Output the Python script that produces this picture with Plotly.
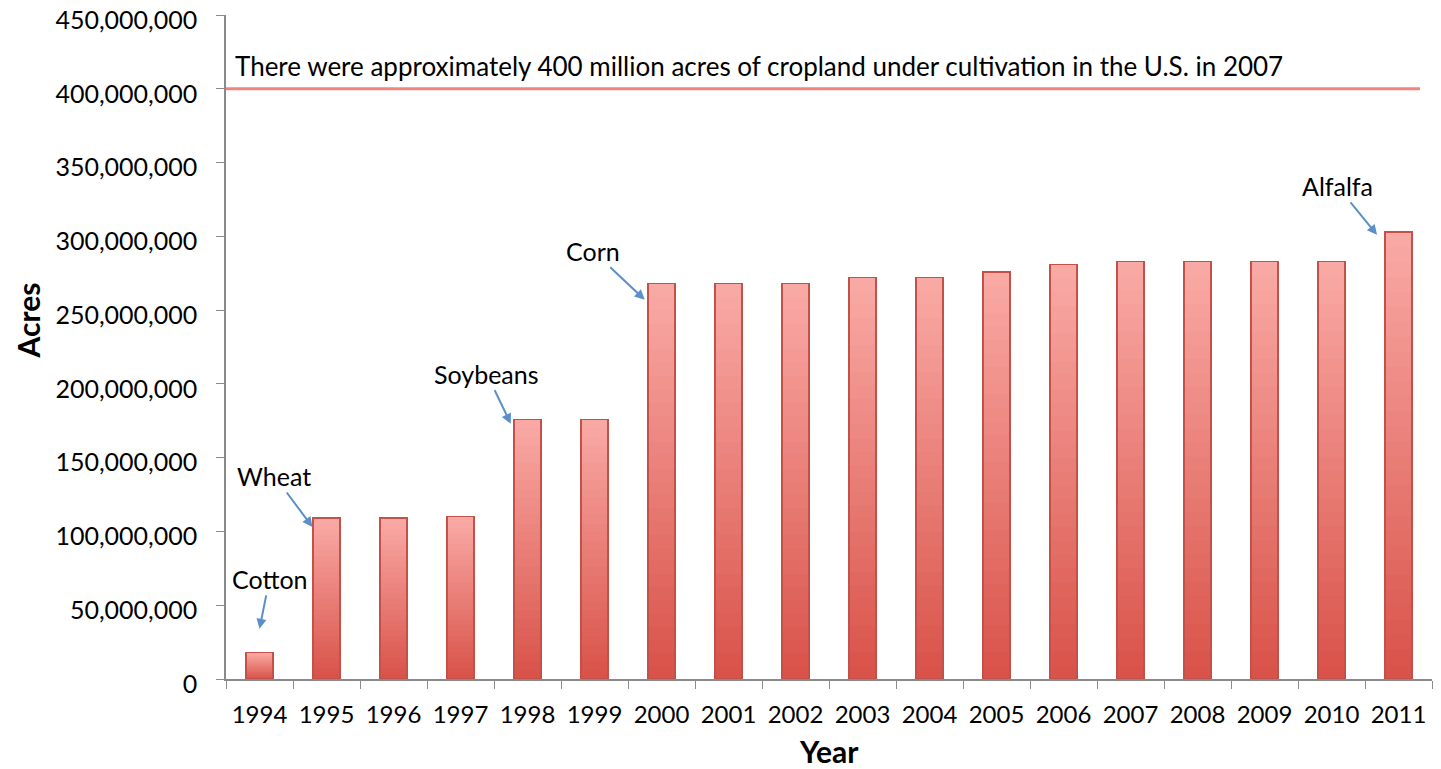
import plotly.graph_objects as go

# ---- data ----
years = [str(y) for y in range(1994, 2012)]
acres = [18e6, 109e6, 109e6, 110e6, 176e6, 176e6, 268e6, 268e6, 268e6,
         272e6, 272e6, 276e6, 281e6, 283e6, 283e6, 283e6, 283e6, 303e6]
crops = ["Cotton", "Wheat", "Soybeans", "Corn", "Alfalfa"]
crop_years = ["1994", "1995", "1998", "2000", "2011"]
cropland_total = 400e6
note = "There were approximately 400 million acres of cropland under cultivation in the U.S. in 2007"
y_ticks = [0, 50e6, 100e6, 150e6, 200e6, 250e6, 300e6, 350e6, 400e6, 450e6]
x_title = "Year"
y_title = "Acres"

FONT = "Lato"
N_SEG = 30
bottom_rgb = (216, 82, 72)
top_rgb = (250, 170, 166)

fig = go.Figure()

# gradient bars: stacked segments
for k in range(N_SEG):
    t = (k + 0.5) / N_SEG
    c = tuple(int(round(b + (tp - b) * t)) for b, tp in zip(bottom_rgb, top_rgb))
    col = f"rgb{c}"
    fig.add_trace(go.Bar(
        x=years, y=[v / N_SEG for v in acres],
        marker=dict(color=col, line=dict(color=col, width=0.6)),
        showlegend=False, hoverinfo="skip",
    ))

# outline bars on overlaying axes
fig.add_trace(go.Bar(
    x=years, y=acres, xaxis="x2", yaxis="y2",
    marker=dict(color="rgba(0,0,0,0)", line=dict(color="#C4504A", width=1.5)),
    showlegend=False, hoverinfo="skip",
))

# 400M reference line
fig.add_shape(type="line", xref="x", yref="y", x0=-0.5, x1=17.32,
              y0=cropland_total, y1=cropland_total,
              line=dict(color="#F0857C", width=3))
fig.add_annotation(text=note, xref="paper", yref="y", x=0.006, y=cropland_total,
                   yshift=23, xanchor="left", yanchor="middle", showarrow=False,
                   font=dict(family=FONT, size=26, color="black"))

# crop annotations with arrows
head_dx = [0.0, -0.21, -0.25, -0.25, -0.32]
head_dy = [16e6, -6e6, -3e6, -11e6, -2e6]
text_ax = [10, -38, -24, -52, -40]
text_ay = [-50, -51, -50, -49, -49]
for name, yr, dx, dy, ax, ay in zip(crops, crop_years, head_dx, head_dy, text_ax, text_ay):
    i = years.index(yr)
    fig.add_annotation(
        x=i + dx, y=acres[i] + dy, xref="x", yref="y",
        text=name, showarrow=True, ax=ax, ay=ay,
        arrowhead=2, arrowsize=1, arrowwidth=2, arrowcolor="#5B8FC9",
        font=dict(family=FONT, size=25, color="black"),
    )

# axis titles
fig.add_annotation(text=f"<b>{x_title}</b>", xref="paper", yref="paper", x=0.5, y=0,
                   yshift=-72, xanchor="center", yanchor="middle", showarrow=False,
                   font=dict(family=FONT, size=30, color="black"))
fig.add_annotation(text=f"<b>{y_title}</b>", xref="paper", yref="paper", x=0, y=0.54,
                   xshift=-198, xanchor="center", yanchor="middle", textangle=-90,
                   showarrow=False, font=dict(family=FONT, size=30, color="black"))

axis_col = "#8A8A8A"
fig.update_layout(
    barmode="stack", bargap=0.59,
    width=1433, height=761,
    margin=dict(l=218, r=9, t=7, b=90),
    plot_bgcolor="white", paper_bgcolor="white",
    font=dict(family=FONT, size=25, color="black"),
    xaxis=dict(
        type="category", tickson="boundaries", ticks="outside", ticklen=8,
        tickcolor=axis_col, showline=True, linecolor=axis_col, linewidth=1.5,
        showgrid=False, tickfont=dict(family=FONT, size=24, color="black"),
        ticklabelstandoff=13, automargin=False,
        range=[-0.5, 17.5],
    ),
    yaxis=dict(
        range=[0, 450e6], tickvals=y_ticks, tickformat=",d", ticks="outside",
        ticklen=8, tickcolor=axis_col, showline=True, linecolor=axis_col,
        linewidth=1.5, showgrid=False, zeroline=False, automargin=False,
        ticklabelstandoff=14, ticklabeloverflow="allow", ticklabelshift=5,
        tickfont=dict(family=FONT, size=25, color="black"),
    ),
    xaxis2=dict(matches="x", overlaying="x", visible=False, type="category"),
    yaxis2=dict(matches="y", overlaying="y", visible=False),
)

fig.write_html("out.html")
